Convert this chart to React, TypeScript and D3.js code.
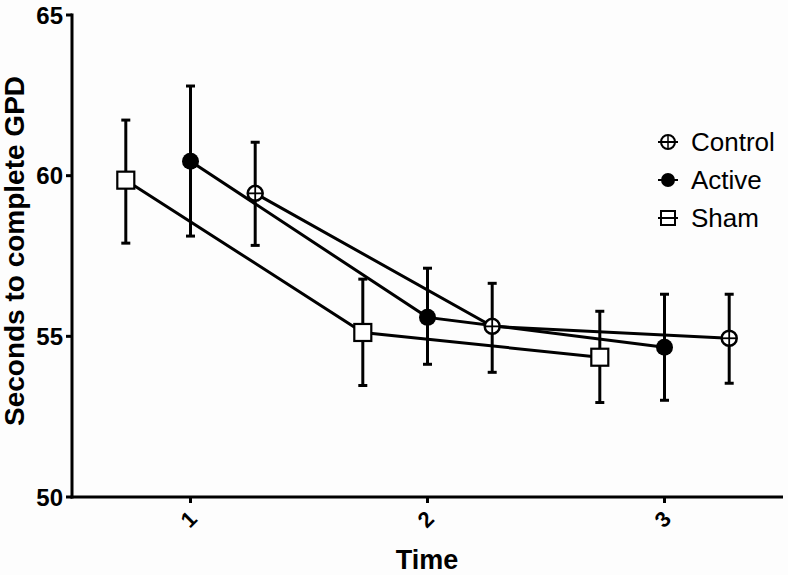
import React from "react";
import * as d3 from "d3";

const times = [1, 2, 3];
const seriesNames = ["Control", "Active", "Sham"];
const controlMean = [59.45, 55.31, 54.94];
const controlLow = [57.83, 53.88, 53.54];
const controlHigh = [61.04, 56.65, 56.31];
const activeMean = [60.45, 55.59, 54.66];
const activeLow = [58.12, 54.13, 53.01];
const activeHigh = [62.79, 57.12, 56.31];
const shamMean = [59.86, 55.12, 54.35];
const shamLow = [57.9, 53.47, 52.94];
const shamHigh = [61.73, 56.78, 55.78];
const yTicks = [50, 55, 60, 65];

const W = 788;
const H = 575;

export default function App() {
  const x = d3.scaleLinear().domain([0.5, 3.5]).range([72, 783]);
  const y = d3.scaleLinear().domain([50, 65]).range([497, 15]);
  const offsets = [0.273, 0, -0.273];
  const series = [
    { name: seriesNames[0], mean: controlMean, low: controlLow, high: controlHigh, kind: "control" },
    { name: seriesNames[1], mean: activeMean, low: activeLow, high: activeHigh, kind: "active" },
    { name: seriesNames[2], mean: shamMean, low: shamLow, high: shamHigh, kind: "sham" },
  ];
  const line = d3.line<[number, number]>().x((d) => d[0]).y((d) => d[1]);

  const marker = (kind: string, cx: number, cy: number, key: string) => {
    if (kind === "active") return <circle key={key} cx={cx} cy={cy} r={8.5} fill="#000" />;
    if (kind === "sham")
      return <rect key={key} x={cx - 8.5} y={cy - 8.5} width={17} height={17} fill="#fff" stroke="#000" strokeWidth={2.2} />;
    return (
      <g key={key}>
        <circle cx={cx} cy={cy} r={7.5} fill="#fff" stroke="#000" strokeWidth={2.5} />
        <line x1={cx - 7.5} x2={cx + 7.5} y1={cy} y2={cy} stroke="#000" strokeWidth={1.8} />
        <line x1={cx} x2={cx} y1={cy - 7.5} y2={cy + 7.5} stroke="#000" strokeWidth={1.8} />
      </g>
    );
  };

  const font = "'Liberation Sans', Arial, Helvetica, sans-serif";

  return (
    <svg width={W} height={H} style={{ position: "absolute", left: 0, top: 0, background: "#fdfdfd" }} fontFamily={font}>
      <rect width={W} height={H} fill="#fdfdfd" />
      {/* axes */}
      <line x1={72} x2={72} y1={y(65) - 1.5} y2={y(50) + 1.5} stroke="#000" strokeWidth={3} />
      <line x1={70.5} x2={783} y1={y(50)} y2={y(50)} stroke="#000" strokeWidth={3} />
      {yTicks.map((t) => (
        <g key={t}>
          <line x1={66} x2={72} y1={y(t)} y2={y(t)} stroke="#000" strokeWidth={3} />
          <text x={63} y={y(t)} dy="0.36em" textAnchor="end" fontSize={24} fontWeight="bold">
            {t}
          </text>
        </g>
      ))}
      {times.map((t) => (
        <g key={t}>
          <line x1={x(t)} x2={x(t)} y1={y(50)} y2={y(50) + 6} stroke="#000" strokeWidth={3} />
          <text
            transform={`translate(${x(t) - 2},${519}) rotate(-45)`}
            textAnchor="middle"
            dy="0.36em"
            fontSize={22}
            fontWeight="bold"
          >
            {t}
          </text>
        </g>
      ))}
      <text x={427} y={569} textAnchor="middle" fontSize={27} fontWeight="bold">
        Time
      </text>
      <text transform={`translate(24,251) rotate(-90)`} textAnchor="middle" fontSize={28} fontWeight="bold">
        Seconds to complete GPD
      </text>
      {/* lines */}
      {series.map((s, i) => (
        <path
          key={s.name}
          d={line(times.map((t, j) => [x(t + offsets[i]), y(s.mean[j])]) as [number, number][]) || ""}
          fill="none"
          stroke="#000"
          strokeWidth={3}
        />
      ))}
      {/* error bars */}
      {series.map((s, i) =>
        times.map((t, j) => {
          const cx = x(t + offsets[i]);
          return (
            <g key={s.name + t} stroke="#000" strokeWidth={3}>
              <line x1={cx} x2={cx} y1={y(s.high[j])} y2={y(s.low[j])} />
              <line x1={cx - 4.5} x2={cx + 4.5} y1={y(s.high[j])} y2={y(s.high[j])} />
              <line x1={cx - 4.5} x2={cx + 4.5} y1={y(s.low[j])} y2={y(s.low[j])} />
            </g>
          );
        })
      )}
      {/* markers */}
      {series.map((s, i) => times.map((t, j) => marker(s.kind, x(t + offsets[i]), y(s.mean[j]), s.name + "m" + t)))}
      {/* legend */}
      {series.map((s, i) => {
        const ly = 142 + i * 38;
        return (
          <g key={"leg" + s.name}>
            {s.kind === "sham" ? (
              <g>
                <rect x={661} y={ly - 7} width={14} height={14} fill="#fff" stroke="#000" strokeWidth={2} />
                <line x1={658} x2={678} y1={ly} y2={ly} stroke="#000" strokeWidth={2} />
              </g>
            ) : s.kind === "active" ? (
              <g>
                <circle cx={668} cy={ly} r={7} fill="#000" />
                <line x1={658} x2={678} y1={ly} y2={ly} stroke="#000" strokeWidth={2} />
              </g>
            ) : (
              <g>
                <circle cx={668} cy={ly} r={7} fill="#fff" stroke="#000" strokeWidth={2} />
                <line x1={658} x2={678} y1={ly} y2={ly} stroke="#000" strokeWidth={2} />
                <line x1={668} x2={668} y1={ly - 7} y2={ly + 7} stroke="#000" strokeWidth={1.5} />
              </g>
            )}
            <text x={691} y={ly} dy="0.36em" fontSize={26}>
              {s.name}
            </text>
          </g>
        );
      })}
    </svg>
  );
}
